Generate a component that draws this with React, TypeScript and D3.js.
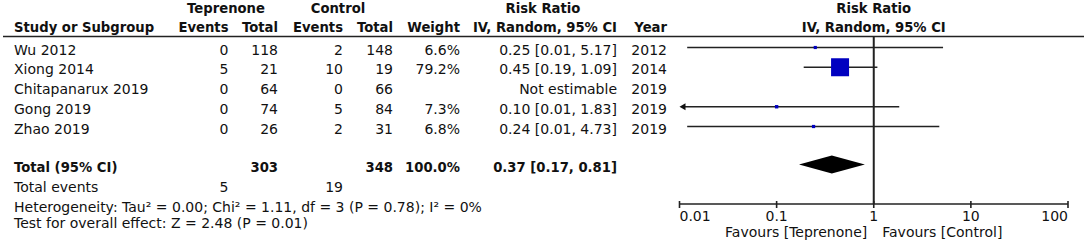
import React from "react";
import * as d3 from "d3";

const studies = ["Wu 2012", "Xiong 2014", "Chitapanarux 2019", "Gong 2019", "Zhao 2019"];
const tepEvents = [0, 5, 0, 0, 0];
const tepTotal = [118, 21, 64, 74, 26];
const ctlEvents = [2, 10, 0, 5, 2];
const ctlTotal = [148, 19, 66, 84, 31];
const weights: (number | null)[] = [6.6, 79.2, null, 7.3, 6.8];
const rr: (number | null)[] = [0.25, 0.45, null, 0.1, 0.24];
const rrLo: (number | null)[] = [0.012, 0.19, null, 0.0055, 0.012];
const rrHi: (number | null)[] = [5.17, 1.09, null, 1.83, 4.73];
const years = [2012, 2014, 2019, 2019, 2019];

const totalTep = 303;
const totalCtl = 348;
const totalWeight = 100.0;
const totalRR = 0.37;
const totalLo = 0.17;
const totalHi = 0.81;
const totalEventsTep = 5;
const totalEventsCtl = 19;

const heterogeneity = ["0.00", "1.11", "3", "0.78", "0%"];
const overallEffect = ["2.48", "0.01"];

const axisTicks = [0.01, 0.1, 1, 10, 100];
const tickLabels = ["0.01", "0.1", "1", "10", "100"];
const favourLeft = "Favours [Teprenone]";
const favourRight = "Favours [Control]";

const W = 1084;
const H = 244;
const FONT = "'DejaVu Sans', Verdana, sans-serif";
const REG = 14;
const BOLD = 13.2;
const INK = "#111";

const x = d3.scaleLog().domain([0.01, 100]).range([679.5, 1068]);
const rowBase = d3.scaleLinear().domain([0, 1]).range([54.5, 74.25]);
const boxSize = d3.scalePow().exponent(0.7).domain([0, 79.2]).range([0, 18]);

const col = {
  study: 14,
  tepEv: 228.5,
  tepTot: 278,
  ctlEv: 343,
  ctlTot: 393,
  weight: 460,
  ci: 617,
  year: 667,
};

const fmt = (v: number) => v.toFixed(2);

function T(props: any) {
  const { bold, children, ...rest } = props;
  return (
    <text
      fontFamily={FONT}
      fontSize={bold ? BOLD : REG}
      fontWeight={bold ? "bold" : "normal"}
      fill={INK}
      {...rest}
    >
      {children}
    </text>
  );
}

export default function App() {
  const headerLineY = 36.5;
  const axisY = 204;
  const totalBase = 171.5;
  const x1 = x(1);
  const plotCenter = (x(0.01) + x(100)) / 2;

  return (
    <svg
      width={W}
      height={H}
      style={{ position: "absolute", left: 0, top: 0, background: "#fff" }}
    >
      <rect x={0} y={0} width={W} height={H} fill="#fff" />
      {/* headers */}
      <T bold x={226} y={13} textAnchor="middle">Teprenone</T>
      <T bold x={338} y={13} textAnchor="middle">Control</T>
      <T bold x={543} y={13} textAnchor="middle">Risk Ratio</T>
      <T bold x={plotCenter} y={13} textAnchor="middle">Risk Ratio</T>
      <T bold x={col.study} y={31.5}>Study or Subgroup</T>
      <T bold x={col.tepEv} y={31.5} textAnchor="end">Events</T>
      <T bold x={col.tepTot} y={31.5} textAnchor="end">Total</T>
      <T bold x={col.ctlEv} y={31.5} textAnchor="end">Events</T>
      <T bold x={col.ctlTot} y={31.5} textAnchor="end">Total</T>
      <T bold x={col.weight} y={31.5} textAnchor="end">Weight</T>
      <T bold x={col.ci} y={31.5} textAnchor="end">IV, Random, 95% CI</T>
      <T bold x={col.year} y={31.5} textAnchor="end">Year</T>
      <T bold x={plotCenter} y={31.5} textAnchor="middle">IV, Random, 95% CI</T>
      <line x1={3} x2={W} y1={headerLineY} y2={headerLineY} stroke="#222" strokeWidth={1.6} />

      {/* study rows */}
      {studies.map((s, i) => {
        const yb = rowBase(i);
        const yc = yb - 7;
        const est = rr[i];
        const lo = rrLo[i];
        const hi = rrHi[i];
        const w = weights[i];
        const ciText =
          est == null || lo == null || hi == null
            ? "Not estimable"
            : `${fmt(est)} [${fmt(lo)}, ${fmt(hi)}]`;
        const clippedLo = lo != null && lo < x.domain()[0];
        const xLo = lo != null ? x(Math.max(lo, x.domain()[0])) : 0;
        const xHi = hi != null ? x(Math.min(hi, x.domain()[1])) : 0;
        const bs = w != null ? boxSize(w) : 0;
        return (
          <g key={s}>
            <T x={col.study} y={yb}>{s}</T>
            <T x={col.tepEv} y={yb} textAnchor="end">{tepEvents[i]}</T>
            <T x={col.tepTot} y={yb} textAnchor="end">{tepTotal[i]}</T>
            <T x={col.ctlEv} y={yb} textAnchor="end">{ctlEvents[i]}</T>
            <T x={col.ctlTot} y={yb} textAnchor="end">{ctlTotal[i]}</T>
            <T x={col.weight} y={yb} textAnchor="end">{w != null ? `${w.toFixed(1)}%` : ""}</T>
            <T x={col.ci} y={yb} textAnchor="end">{ciText}</T>
            <T x={col.year} y={yb} textAnchor="end">{years[i]}</T>
            {est != null && lo != null && hi != null && (
              <g>
                <line
                  x1={clippedLo ? xLo + 4 : xLo}
                  x2={xHi}
                  y1={yc}
                  y2={yc}
                  stroke="#222"
                  strokeWidth={1.4}
                />
                {clippedLo && (
                  <path
                    d={`M${xLo},${yc} L${xLo + 6},${yc - 3.5} L${xLo + 6},${yc + 3.5} Z`}
                    fill="#111"
                  />
                )}
                <rect
                  x={x(est) - bs / 2}
                  y={yc - bs / 2}
                  width={bs}
                  height={bs}
                  fill="#0000c0"
                />
              </g>
            )}
          </g>
        );
      })}

      {/* total row */}
      <T bold x={col.study} y={totalBase}>Total (95% CI)</T>
      <T bold x={col.tepTot} y={totalBase} textAnchor="end">{totalTep}</T>
      <T bold x={col.ctlTot} y={totalBase} textAnchor="end">{totalCtl}</T>
      <T bold x={col.weight} y={totalBase} textAnchor="end">{`${totalWeight.toFixed(1)}%`}</T>
      <T bold x={col.ci} y={totalBase} textAnchor="end">{`${fmt(totalRR)} [${fmt(totalLo)}, ${fmt(totalHi)}]`}</T>
      <path
        d={`M${x(totalLo)},${totalBase - 7} L${x(totalRR)},${totalBase - 16} L${x(totalHi)},${totalBase - 7} L${x(totalRR)},${totalBase + 2} Z`}
        fill="#000"
      />

      <T x={col.study} y={191.5}>Total events</T>
      <T x={col.tepEv} y={191.5} textAnchor="end">{totalEventsTep}</T>
      <T x={col.ctlEv} y={191.5} textAnchor="end">{totalEventsCtl}</T>
      <T x={col.study} y={211.5}>
        {`Heterogeneity: Tau² = ${heterogeneity[0]}; Chi² = ${heterogeneity[1]}, df = ${heterogeneity[2]} (P = ${heterogeneity[3]}); I² = ${heterogeneity[4]}`}
      </T>
      <T x={col.study} y={227.5}>
        {`Test for overall effect: Z = ${overallEffect[0]} (P = ${overallEffect[1]})`}
      </T>

      {/* forest plot axis */}
      <line x1={x1} x2={x1} y1={headerLineY} y2={axisY} stroke="#222" strokeWidth={2} />
      <line x1={x(0.01)} x2={x(100)} y1={axisY} y2={axisY} stroke="#222" strokeWidth={1.6} />
      {axisTicks.map((t, i) => (
        <g key={t}>
          <line x1={x(t)} x2={x(t)} y1={axisY - 3} y2={axisY + 4} stroke="#222" strokeWidth={1.6} />
          <T
            x={x(t)}
            y={220.5}
            textAnchor={i === 0 ? "start" : i === axisTicks.length - 1 ? "end" : "middle"}
          >
            {tickLabels[i]}
          </T>
        </g>
      ))}
      <T x={x1 - 6.5} y={237} textAnchor="end">{favourLeft}</T>
      <T x={x1 + 8.5} y={237}>{favourRight}</T>
    </svg>
  );
}
